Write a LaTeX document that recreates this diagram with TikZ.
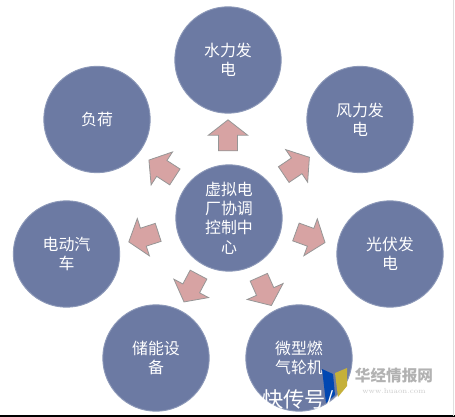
\documentclass[tikz,border=0pt]{standalone}
\usepackage{fontspec}
\usepackage{xcolor}
\usetikzlibrary{shapes.arrows}
\newfontfamily\cjk{Noto Sans CJK SC}[Scale=1]
\definecolor{deepblue}{RGB}{108,122,163}
\definecolor{edgeblue}{RGB}{140,152,184}
\definecolor{softred}{RGB}{215,163,163}
\definecolor{edgegray}{RGB}{150,150,150}
\tikzset{
  unit/.style={circle, draw=edgeblue, line width=0.7pt, fill=deepblue, minimum size=2.82cm,
               inner sep=0pt, align=center, text=white, font=\cjk\fontsize{12}{14.6}\selectfont},
  flow/.style={single arrow, draw=edgegray, line width=0.6pt, fill=softred, minimum width=1.02cm,
               minimum height=0.82cm, single arrow head extend=0.27cm, single arrow tip angle=104,
               single arrow head indent=0pt, inner xsep=0pt, inner ysep=0.24cm, anchor=center},
}
\begin{document}
\begin{tikzpicture}[x=0.0265cm,y=-0.0265cm]
  \useasboundingbox (0,0) rectangle (455,417);
  \fill[white] (0,0) rectangle (455,417);

  \node[unit] (center) at (229,218) {虚拟电\\厂协调\\控制中\\心};
  \node[unit] (water) at (228,60) {水力发\\电};
  \node[unit] (wind) at (360,119.5) {风力发\\电};
  \node[unit] (solar) at (390,254) {光伏发\\电};
  \node[unit] (turbine) at (299,358) {微型燃\\气轮机};
  \node[unit] (storage) at (156,358) {储能设\\备};
  \node[unit] (ev) at (66.5,254) {电动汽\\车};
  \node[unit] (load) at (97,119.5) {负荷};

  \node[flow, rotate=90] (toWater) at (228,139) {};
  \node[flow, rotate=34] (toWind) at (293.5,168) {};
  \node[flow, rotate=-20] (toSolar) at (307,236) {};
  \node[flow, rotate=-66] (toTurbine) at (263.6,288) {};
  \node[flow, rotate=-118] (toStorage) at (193,285) {};
  \node[flow, rotate=198] (toEv) at (147,236) {};
  \node[flow, rotate=147] (toLoad) at (165,170.5) {};

  % watermark
  \fill[blue!60!cyan!70!black] (322,369) -- (333,374) -- (335,395) -- (326,403) -- cycle;
  \fill[brown!45!yellow!70!gray] (335,373) -- (347,368) -- (347,386) -- (338,397) -- cycle;
  \node[text=gray!60, font=\cjk\bfseries\fontsize{11.8}{12}\selectfont] (brand) at (394,376) {华经情报网};
  \node[text=gray!40, font=\fontsize{5.5}{6}\selectfont] (site) at (394,391) {www.huaon.com};
  \node[text=white, font=\cjk\fontsize{16}{17}\selectfont] (mark) at (298,400) {快传号/};
  \draw[black, line width=0.8pt] (0,416) -- (455,416);
  \draw[gray!25, line width=0.6pt] (453,0) -- (453,416);
\end{tikzpicture}
\end{document}
